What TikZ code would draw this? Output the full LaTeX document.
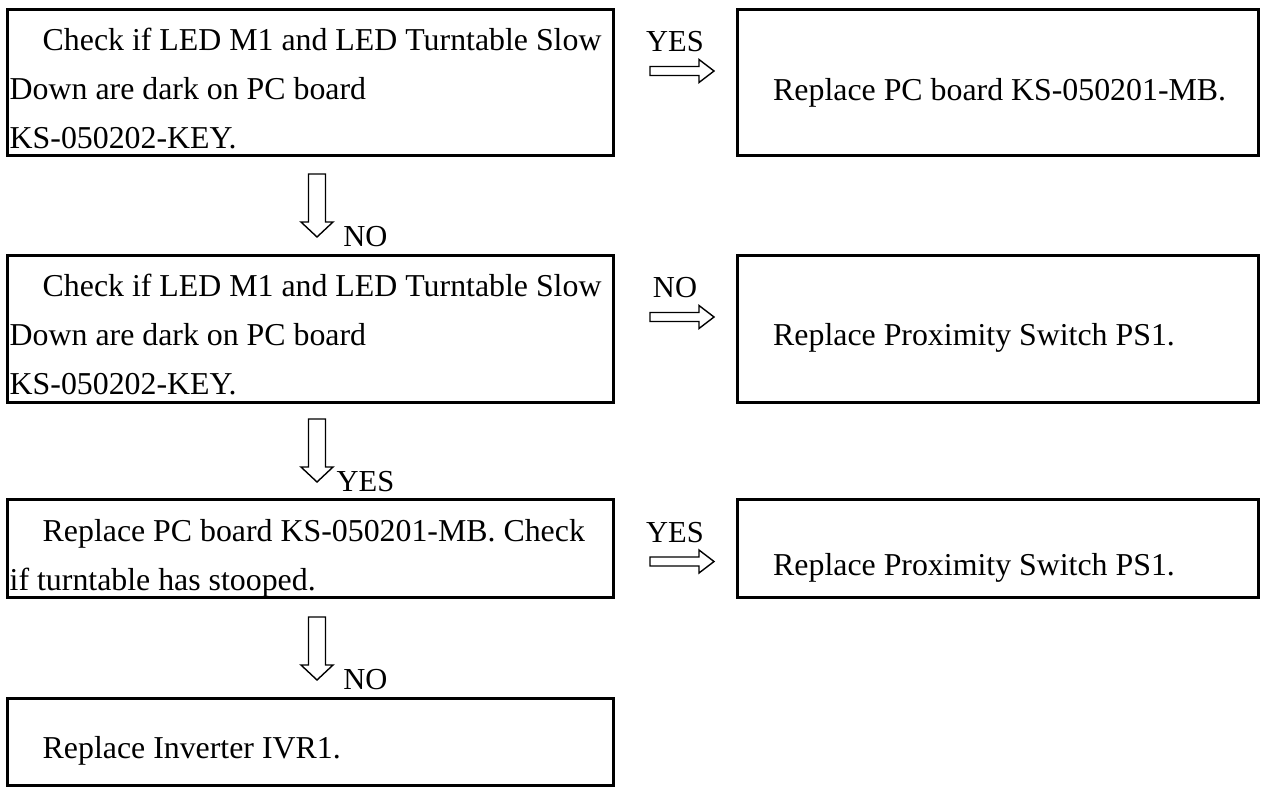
\documentclass[tikz,border=0pt]{standalone}
\usepackage{fontspec}
\setmainfont{Liberation Serif}
\usetikzlibrary{calc,positioning}
\tikzset{
  flowbox/.style={draw, line width=3pt, inner sep=0pt, outer sep=0pt,
    minimum width=606pt, anchor=north west},
  actbox/.style={flowbox, minimum width=521pt},
  boxtext/.style={inner sep=0pt, anchor=base west, align=left,
    font=\fontsize{31.85}{49}\selectfont},
  arrowlabel/.style={inner sep=0pt, anchor=base, font=\fontsize{30.5}{36}\selectfont},
  hollow/.style={draw, line width=1.4pt, fill=white, miter limit=10},
  pics/downblock/.style={code={
    \draw[hollow] (-8.5,-63) -- (8.5,-63) -- (8.5,-15) -- (16,-15) -- (0,0)
      -- (-16,-15) -- (-8.5,-15) -- cycle;}},
  pics/rightblock/.style={code={
    \draw[hollow] (-64,-4.5) -- (-15,-4.5) -- (-15,-11.5) -- (0,0)
      -- (-15,11.5) -- (-15,4.5) -- (-64,4.5) -- cycle;}}
}
\begin{document}
\begin{tikzpicture}[x=1pt, y=-1pt]
  \fill[white] (0,0) rectangle (1261,787);
  \useasboundingbox (0,0) rectangle (1261,787);
  % checks on the left
  \node[flowbox, minimum height=146pt] (chk1) at (7,9) {};
  \node[flowbox, minimum height=147pt, below=100pt of chk1.south west, anchor=north west] (chk2) {};
  \node[flowbox, minimum height=98pt, below=97pt of chk2.south west, anchor=north west] (chk3) {};
  \node[flowbox, minimum height=87pt, below=101pt of chk3.south west, anchor=north west] (ivr) {};
  % actions on the right
  \node[actbox, minimum height=146pt, right=124pt of chk1.north east, anchor=north west] (rep1) {};
  \node[actbox, minimum height=147pt, right=124pt of chk2.north east, anchor=north west] (rep2) {};
  \node[actbox, minimum height=98pt, right=124pt of chk3.north east, anchor=north west] (rep3) {};

  % base of a multi-line text is its last line
  \node[boxtext] (chk1txt) at ($(chk1.north west)+(2.5,139)$)
    {\hspace*{33pt}Check if LED M1 and LED Turntable Slow\\Down are dark on PC board\\KS-050202-KEY.};
  \node[boxtext] (chk2txt) at ($(chk2.north west)+(2.5,139)$)
    {\hspace*{33pt}Check if LED M1 and LED Turntable Slow\\Down are dark on PC board\\KS-050202-KEY.};
  \node[boxtext] (chk3txt) at ($(chk3.north west)+(2.5,91)$)
    {\hspace*{33pt}Replace PC board KS-050201-MB. Check\\if turntable has stooped.};
  \node[boxtext] (ivrtxt) at ($(ivr.north west)+(35.5,60)$) {Replace Inverter IVR1.};
  \node[boxtext] (rep1txt) at ($(rep1.north west)+(36,91)$) {Replace PC board KS-050201-MB.};
  \node[boxtext] (rep2txt) at ($(rep2.north west)+(36,90)$) {Replace Proximity Switch PS1.};
  \node[boxtext] (rep3txt) at ($(rep3.north west)+(36,76)$) {Replace Proximity Switch PS1.};

  % down arrows
  \coordinate (d1) at ($(chk2.north)+(7,-18)$);
  \coordinate (d2) at ($(chk3.north)+(7,-17)$);
  \coordinate (d3) at ($(ivr.north)+(7,-18)$);
  \foreach \t in {d1,d2,d3}{\pic at (\t) {downblock};}
  \node[arrowlabel] (d1lab) at ($(d1)+(48.5,9)$) {NO};
  \node[arrowlabel] (d2lab) at ($(d2)+(48.5,9)$) {YES};
  \node[arrowlabel] (d3lab) at ($(d3)+(48.5,9)$) {NO};

  % right arrows
  \coordinate (r1) at ($(chk1.north east)+(101,62)$);
  \coordinate (r2) at ($(chk2.north east)+(101,62)$);
  \coordinate (r3) at ($(chk3.north east)+(101,62.5)$);
  \foreach \t in {r1,r2,r3}{\pic at (\t) {rightblock};}
  \node[arrowlabel] (r1lab) at ($(r1)+(-39,-19.5)$) {YES};
  \node[arrowlabel] (r2lab) at ($(r2)+(-39,-19.5)$) {NO};
  \node[arrowlabel] (r3lab) at ($(r3)+(-39,-19.5)$) {YES};
\end{tikzpicture}
\end{document}
